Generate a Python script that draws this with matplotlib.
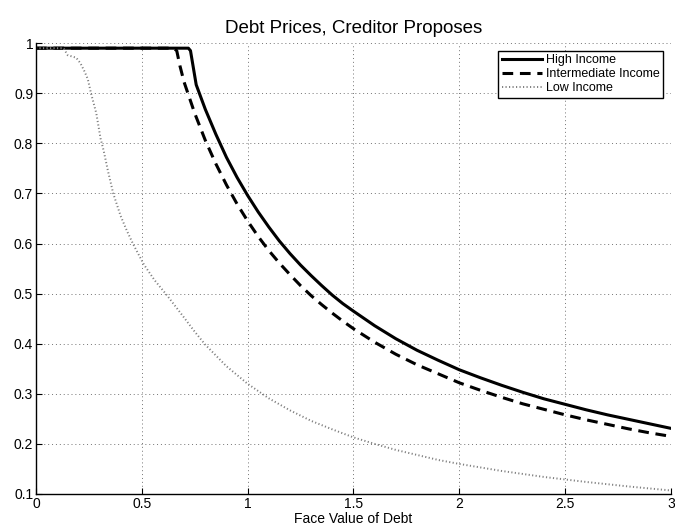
import matplotlib
matplotlib.use("Agg")
import matplotlib.pyplot as plt

plt.rcParams['font.family'] = ['Liberation Sans', 'DejaVu Sans']

# face value grid and prices for each income type
high_x = [0, 0.70, 0.72, 0.73, 0.757, 0.80, 0.85, 0.90, 0.95, 1.0, 1.05, 1.1, 1.15,
          1.2, 1.25, 1.3, 1.35, 1.4, 1.45, 1.5, 1.6, 1.7, 1.8, 1.9, 2.0, 2.1, 2.2,
          2.3, 2.4, 2.5, 2.6, 2.7, 2.8, 2.9, 3.0]
high_y = [0.99, 0.99, 0.99, 0.985, 0.917, 0.868, 0.818, 0.772, 0.732, 0.696, 0.663,
          0.633, 0.605, 0.58, 0.557, 0.536, 0.516, 0.497, 0.48, 0.465, 0.436,
          0.41, 0.387, 0.367, 0.348, 0.332, 0.317, 0.303, 0.29, 0.279, 0.268,
          0.258, 0.249, 0.24, 0.231]

mid_x = [0, 0.65, 0.665, 0.68, 0.70, 0.75, 0.80, 0.85, 0.90, 0.95, 1.0, 1.05, 1.1,
         1.15, 1.2, 1.25, 1.3, 1.35, 1.4, 1.45, 1.5, 1.6, 1.7, 1.8, 1.9, 2.0, 2.1,
         2.2, 2.3, 2.4, 2.5, 2.6, 2.7, 2.8, 2.9, 3.0]
mid_y = [0.99, 0.99, 0.985, 0.955, 0.922, 0.86, 0.806, 0.759, 0.717, 0.679, 0.645,
         0.614, 0.586, 0.561, 0.538, 0.516, 0.496, 0.478, 0.461, 0.445, 0.43,
         0.403, 0.379, 0.358, 0.34, 0.322, 0.307, 0.293, 0.28, 0.269, 0.258,
         0.248, 0.239, 0.23, 0.222, 0.215]

low_x = [0, 0.13, 0.15, 0.19, 0.21, 0.23, 0.245, 0.26, 0.285, 0.305, 0.32, 0.34,
         0.365, 0.40, 0.43, 0.46, 0.51, 0.56, 0.62, 0.70, 0.75, 0.80, 0.90, 1.0,
         1.1, 1.2, 1.3, 1.4, 1.5, 1.6, 1.7, 1.8, 1.9, 2.0, 2.2, 2.4, 2.6, 2.8, 3.0]
low_y = [0.99, 0.99, 0.976, 0.971, 0.96, 0.943, 0.928, 0.90, 0.86, 0.81, 0.785,
         0.745, 0.70, 0.655, 0.625, 0.598, 0.558, 0.527, 0.496, 0.452, 0.424,
         0.398, 0.355, 0.32, 0.291, 0.267, 0.246, 0.229, 0.213, 0.20, 0.188,
         0.178, 0.168, 0.16, 0.146, 0.134, 0.124, 0.115, 0.107]

labels = ["High Income", "Intermediate Income", "Low Income"]
x_ticks = [0, 0.5, 1, 1.5, 2, 2.5, 3]
y_ticks = [0.1, 0.2, 0.3, 0.4, 0.5, 0.6, 0.7, 0.8, 0.9, 1]

fig = plt.figure(figsize=(6.75, 5.31), dpi=100)
ax = fig.add_axes([0.0533, 0.0697, 0.9407, 0.849])

ax.plot(high_x, high_y, color='black', lw=2.2, label=labels[0])
ax.plot(mid_x, mid_y, color='black', lw=2.2, linestyle=(0, (3.5, 2.2)), label=labels[1])
ax.plot(low_x, low_y, color='0.5', lw=1.4, linestyle=(0, (0.6, 1.2)), label=labels[2])

ax.set_xlim(0, 3)
ax.set_ylim(0.1, 1)
ax.set_xticks(x_ticks)
ax.set_xticklabels(["0", "0.5", "1", "1.5", "2", "2.5", "3"])
ax.set_yticks(y_ticks)
ax.set_yticklabels(["0.1", "0.2", "0.3", "0.4", "0.5", "0.6", "0.7", "0.8", "0.9", "1"])
ax.tick_params(direction='in', length=4, width=0.8, labelsize=10, pad=2)

ax.grid(True, linestyle=(0, (1, 3)), color='0.45', lw=0.7)
ax.spines['top'].set_visible(False)
ax.spines['right'].set_visible(False)
ax.spines['left'].set_linewidth(1.0)
ax.spines['bottom'].set_linewidth(1.0)

ax.set_title("Debt Prices, Creditor Proposes", fontsize=13.5, pad=7)
ax.set_xlabel("Face Value of Debt", fontsize=10, labelpad=1)

leg = ax.legend(loc='upper right', fontsize=9, fancybox=False, framealpha=1,
                edgecolor='black', handlelength=3.2, handletextpad=0.3,
                borderpad=0.3, labelspacing=0.15, borderaxespad=0.6)
leg.get_frame().set_linewidth(1.0)

fig.savefig("out.png", dpi=100)
